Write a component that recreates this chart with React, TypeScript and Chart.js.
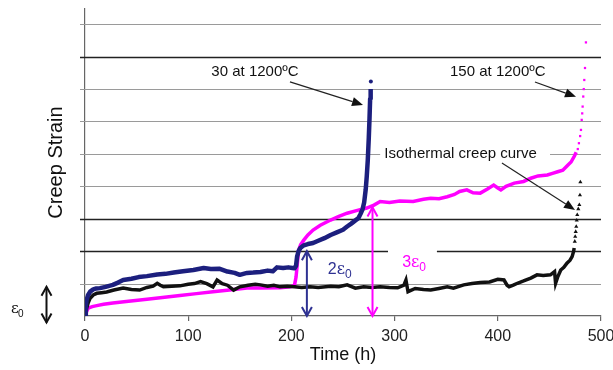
import React, { useEffect, useRef } from 'react';
import { Chart, registerables } from 'chart.js';
Chart.register(...registerables);

// ---- data (time in h, strain in units of epsilon0) ----
const navyTime = [0, 0.8, 1.6, 3, 5, 8, 11, 14.5, 20, 27, 32, 37, 45, 52, 60, 70, 78, 86, 95, 105, 115, 122, 130, 138, 145, 150, 157, 163, 170, 177, 182, 186, 192, 197, 201, 203, 204.5, 205.5, 207, 208.7, 212, 216, 221, 226, 232, 238, 244, 250, 254, 258, 262, 265, 267, 269, 270.5, 272, 273, 274, 275, 275.7, 276.3, 276.8];
const navyStrain = [0, 0.3, 0.5, 0.65, 0.75, 0.82, 0.85, 0.86, 0.9, 0.96, 1.03, 1.11, 1.15, 1.2, 1.23, 1.28, 1.3, 1.34, 1.38, 1.42, 1.48, 1.45, 1.46, 1.37, 1.33, 1.27, 1.33, 1.34, 1.36, 1.4, 1.38, 1.5, 1.48, 1.5, 1.48, 1.47, 1.55, 1.83, 2.0, 2.1, 2.18, 2.22, 2.25, 2.32, 2.4, 2.5, 2.58, 2.66, 2.76, 2.85, 2.95, 3.02, 3.15, 3.3, 3.5, 3.9, 4.3, 4.8, 5.5, 6.1, 6.7, 7.0];
const navyTailTime = [277];
const navyTailStrain = [7.23];

const magentaTime = [0, 1, 3, 7, 11.4, 18, 27, 40, 60, 75, 92, 108, 124, 140, 157, 170, 189, 199, 203, 204.5, 206, 207, 209, 212, 216, 221, 228, 238, 246, 254, 263, 273, 280, 286, 295, 305, 318, 328, 335, 343, 351, 358, 363, 370, 376, 383, 390, 396, 400, 403, 408, 416, 425, 432, 439, 448, 453, 458, 463, 468, 471, 474, 476];
const magentaStrain = [0, 0.1, 0.24, 0.29, 0.32, 0.36, 0.4, 0.45, 0.52, 0.57, 0.63, 0.69, 0.75, 0.8, 0.86, 0.86, 0.87, 0.9, 0.95, 1.2, 1.7, 2.03, 2.2, 2.34, 2.5, 2.65, 2.8, 2.96, 3.07, 3.17, 3.25, 3.33, 3.42, 3.53, 3.5, 3.55, 3.53, 3.6, 3.63, 3.62, 3.68, 3.75, 3.84, 3.89, 3.8, 3.79, 3.92, 4.04, 3.95, 3.89, 4.0, 4.1, 4.15, 4.25, 4.32, 4.35, 4.4, 4.45, 4.5, 4.66, 4.75, 4.92, 5.05];
const magentaTailTime = [477.5, 478.6, 479.8, 480.6, 481.3, 481.8, 482.2, 482.8, 483.3, 483.8, 484.5, 485.4];
const magentaTailStrain = [5.15, 5.33, 5.55, 5.74, 6.05, 6.25, 6.46, 6.77, 7.0, 7.28, 7.65, 8.44];

const blackTime = [0, 0.8, 1.6, 3, 5, 8, 11.4, 16, 21, 28, 37, 45, 53, 60, 66, 70, 73, 76, 84, 92, 100, 106, 112, 118, 124, 128, 133, 138, 144, 150, 158, 165, 170, 177, 183, 189, 196, 203, 210, 218, 226, 238, 246, 254, 262, 270, 278, 286, 295, 303, 309, 311, 313, 320, 328, 335, 343, 351, 357, 367, 375, 383, 392, 400, 406, 409, 411, 415, 419, 425, 432, 438, 444, 451, 455, 456, 458, 461, 464, 467, 470, 472, 473.5, 474];
const blackStrain = [0, 0.1, 0.24, 0.4, 0.55, 0.65, 0.7, 0.72, 0.74, 0.8, 0.86, 0.82, 0.8, 0.88, 0.92, 1.01, 0.95, 0.9, 0.92, 0.93, 0.98, 1.0, 1.06, 1.0, 0.9, 1.11, 1.0, 0.95, 0.8, 0.9, 0.95, 0.98, 0.96, 0.92, 0.95, 0.9, 0.92, 0.9, 0.88, 0.9, 0.88, 0.92, 0.9, 0.96, 0.86, 0.9, 0.88, 0.9, 0.88, 0.87, 0.95, 1.11, 0.75, 0.85, 0.82, 0.8, 0.85, 0.9, 0.86, 0.96, 1.0, 1.03, 1.05, 1.13, 1.11, 0.95, 0.9, 0.95, 1.01, 1.08, 1.17, 1.27, 1.25, 1.27, 1.37, 1.01, 1.2, 1.42, 1.5, 1.63, 1.72, 1.83, 2.0, 2.1];
const blackTailTime = [474.6, 475, 475.5, 476, 476.5, 477, 478, 479, 479.6, 480];
const blackTailStrain = [2.3, 2.45, 2.6, 2.76, 2.95, 3.12, 3.3, 3.43, 3.73, 4.13];

const xTickValues = [0, 100, 200, 300, 400, 500];
const gridStrain = [1, 2, 3, 4, 5, 6, 7, 8, 9];
const darkGridStrain = [2, 3, 8];

const NAVY = '#1c1f7e';
const NAVY_LIGHT = '#2e3192';
const MAGENTA = '#ff00ff';
const BLACK = '#111111';
const FONT = '"Liberation Sans", Arial, sans-serif';

const pts = (xs: number[], ys: number[]) => xs.map((x, i) => ({ x, y: ys[i] }));

// annotation config (data coordinates)
const gridGaps = [
  { y: 2, from: 293.6, to: 341 },
  { y: 5, from: 286, to: 450.6 },
];
const pointerArrows = [
  { from: [198.6, 7.22], to: [269.4, 6.51] },
  { from: [436, 7.22], to: [475.8, 6.76] },
  { from: [404, 4.72], to: [474.8, 3.27] },
];
const textLabels = [
  { text: '30 at 1200ºC', at: [164.7, 7.53] },
  { text: '150 at 1200ºC', at: [400, 7.53] },
  { text: 'Isothermal creep curve', at: [364, 5.0] },
];
const strainArrows = [
  { t: 215, top: 2.0, color: NAVY_LIGHT, label: '2', labelAt: [246, 1.48] },
  { t: 278.6, top: 3.35, color: MAGENTA, label: '3', labelAt: [318, 1.7] },
];

function chevron(ctx: CanvasRenderingContext2D, x: number, y: number, dir: number) {
  ctx.beginPath();
  ctx.moveTo(x - 5, y - dir * 9);
  ctx.lineTo(x, y);
  ctx.lineTo(x + 5, y - dir * 9);
  ctx.stroke();
}

function drawEps(ctx: CanvasRenderingContext2D, x: number, y: number, prefix: string, size: number, color: string) {
  ctx.fillStyle = color;
  ctx.textBaseline = 'alphabetic';
  ctx.textAlign = 'left';
  ctx.font = `${size}px ${FONT}`;
  ctx.fillText(prefix, x, y);
  let cx = x + ctx.measureText(prefix).width;
  ctx.font = `${size}px "DejaVu Serif", "Liberation Serif", serif`;
  ctx.fillText('ε', cx, y);
  cx += ctx.measureText('ε').width;
  ctx.font = `${Math.round(size * 0.72)}px ${FONT}`;
  ctx.fillText('0', cx, y + size * 0.25);
}

const annotationPlugin = {
  id: 'creepAnnotations',
  beforeDatasetsDraw(chart: any) {
    const { ctx, chartArea, scales } = chart;
    const ys = scales.y;
    const xs = scales.x;
    ctx.save();
    gridStrain.forEach((v) => {
      const py = Math.round(ys.getPixelForValue(v)) + 0.5;
      const dark = darkGridStrain.includes(v);
      ctx.strokeStyle = dark ? '#222' : '#9a9a9a';
      ctx.lineWidth = dark ? 1.6 : 1.2;
      const gap = gridGaps.find((g) => g.y === v);
      ctx.beginPath();
      ctx.moveTo(chartArea.left - 5, py);
      if (gap) {
        ctx.lineTo(xs.getPixelForValue(gap.from), py);
        ctx.moveTo(xs.getPixelForValue(gap.to), py);
      }
      ctx.lineTo(chartArea.right, py);
      ctx.stroke();
    });
    ctx.restore();
  },
  afterDatasetsDraw(chart: any) {
    const { ctx, scales } = chart;
    const xs = scales.x;
    const ys = scales.y;
    const X = (v: number) => xs.getPixelForValue(v);
    const Y = (v: number) => ys.getPixelForValue(v);
    ctx.save();
    // strain double arrows
    strainArrows.forEach((a) => {
      const px = X(a.t);
      const y0 = Y(0);
      const y1 = Y(a.top);
      ctx.strokeStyle = a.color;
      ctx.lineWidth = 2;
      ctx.beginPath();
      ctx.moveTo(px, y0);
      ctx.lineTo(px, y1);
      ctx.stroke();
      chevron(ctx, px, y0, 1);
      chevron(ctx, px, y1, -1);
      drawEps(ctx, X(a.labelAt[0]) - 11, Y(a.labelAt[1]) + 6, a.label, 16, a.color);
    });
    // pointer arrows
    pointerArrows.forEach((a) => {
      const x0 = X(a.from[0]), y0 = Y(a.from[1]);
      const x1 = X(a.to[0]), y1 = Y(a.to[1]);
      const ang = Math.atan2(y1 - y0, x1 - x0);
      const L = 11, W = 4.5;
      ctx.strokeStyle = '#222';
      ctx.fillStyle = '#111';
      ctx.lineWidth = 1.2;
      ctx.beginPath();
      ctx.moveTo(x0, y0);
      ctx.lineTo(x1 - Math.cos(ang) * L, y1 - Math.sin(ang) * L);
      ctx.stroke();
      ctx.beginPath();
      ctx.moveTo(x1, y1);
      ctx.lineTo(x1 - Math.cos(ang) * L - Math.sin(ang) * W, y1 - Math.sin(ang) * L + Math.cos(ang) * W);
      ctx.lineTo(x1 - Math.cos(ang) * L + Math.sin(ang) * W, y1 - Math.sin(ang) * L - Math.cos(ang) * W);
      ctx.closePath();
      ctx.fill();
    });
    // text labels
    ctx.font = `15px ${FONT}`;
    ctx.fillStyle = '#111';
    ctx.textAlign = 'center';
    ctx.textBaseline = 'middle';
    textLabels.forEach((l) => {
      ctx.fillText(l.text, X(l.at[0]), Y(l.at[1]));
    });
    ctx.restore();
  },
  afterDraw(chart: any) {
    const { ctx, chartArea, scales } = chart;
    const ys = scales.y;
    ctx.save();
    // y title
    ctx.translate(56, (chartArea.top + chartArea.bottom) / 2);
    ctx.rotate(-Math.PI / 2);
    ctx.font = `20px ${FONT}`;
    ctx.fillStyle = '#111';
    ctx.textAlign = 'center';
    ctx.textBaseline = 'middle';
    ctx.fillText('Creep Strain', 0, 0);
    ctx.restore();
    ctx.save();
    // x title
    ctx.font = `18px ${FONT}`;
    ctx.fillStyle = '#111';
    ctx.textAlign = 'center';
    ctx.textBaseline = 'middle';
    ctx.fillText('Time (h)', (chartArea.left + chartArea.right) / 2, 355);
    // epsilon0 marker at left
    ctx.font = `15px "DejaVu Serif", "Liberation Serif", serif`;
    ctx.textAlign = 'left';
    ctx.textBaseline = 'alphabetic';
    ctx.fillText('ε', 11, 313);
    ctx.font = `10px ${FONT}`;
    ctx.fillText('0', 18, 317);
    const ax = 46.5;
    const yTop = ys.getPixelForValue(0.9);
    const yBot = ys.getPixelForValue(-0.2);
    ctx.strokeStyle = '#111';
    ctx.lineWidth = 2;
    ctx.beginPath();
    ctx.moveTo(ax, yTop);
    ctx.lineTo(ax, yBot);
    ctx.stroke();
    chevron(ctx, ax, yTop, -1);
    chevron(ctx, ax, yBot, 1);
    ctx.restore();
  },
};

export default function App() {
  const ref = useRef<HTMLCanvasElement>(null);
  useEffect(() => {
    if (!ref.current) return;
    const chart = new Chart(ref.current, {
      type: 'scatter',
      data: {
        datasets: [
          { data: pts(navyTime, navyStrain), showLine: true, borderColor: NAVY, borderWidth: 4.5, pointRadius: 0, borderJoinStyle: 'round' },
          { data: pts(navyTailTime, navyTailStrain), showLine: false, pointRadius: 2, backgroundColor: NAVY, borderColor: NAVY, borderWidth: 0 },
          { data: pts(blackTime, blackStrain), showLine: true, borderColor: BLACK, borderWidth: 3.5, pointRadius: 0 },
          { data: pts(blackTailTime, blackTailStrain), showLine: false, pointStyle: 'triangle', pointRadius: 2.4, backgroundColor: BLACK, borderColor: BLACK, borderWidth: 0 },
          { data: pts(magentaTime, magentaStrain), showLine: true, borderColor: MAGENTA, borderWidth: 3.5, pointRadius: 0 },
          { data: pts(magentaTailTime, magentaTailStrain), showLine: false, pointStyle: 'rect', pointRadius: 1.6, backgroundColor: MAGENTA, borderColor: MAGENTA, borderWidth: 0 },
        ] as any,
      },
      options: {
        responsive: false,
        animation: false,
        layout: { padding: { top: 9, right: 12, left: 0, bottom: 0 } },
        plugins: { legend: { display: false }, tooltip: { enabled: false }, title: { display: false } },
        scales: {
          x: {
            type: 'linear',
            min: 0,
            max: 500,
            afterBuildTicks: (s: any) => { s.ticks = xTickValues.map((v) => ({ value: v })); },
            afterFit: (s: any) => { s.height = 54; s.paddingRight = 0; s.paddingLeft = 0; },
            ticks: { font: { family: FONT, size: 16 }, color: '#222', padding: 6, maxRotation: 0 },
            grid: { drawOnChartArea: false, drawTicks: true, tickLength: 5, color: '#666', lineWidth: 1.2 },
            border: { display: true, color: '#666', width: 1.2 },
          },
          y: {
            type: 'linear',
            min: 0,
            max: 9.47,
            afterFit: (s: any) => { s.width = 85; s.paddingTop = 0; s.paddingBottom = 0; },
            ticks: { display: false },
            grid: { display: true, drawOnChartArea: false, drawTicks: false },
            border: { display: true, color: '#666', width: 1.2 },
          },
        },
      } as any,
      plugins: [annotationPlugin],
    });
    return () => chart.destroy();
  }, []);
  return (
    <div style={{ position: 'absolute', left: 0, top: 0, width: 613, height: 370, background: '#fff' }}>
      <canvas ref={ref} width={613} height={370} style={{ display: 'block' }} />
    </div>
  );
}
